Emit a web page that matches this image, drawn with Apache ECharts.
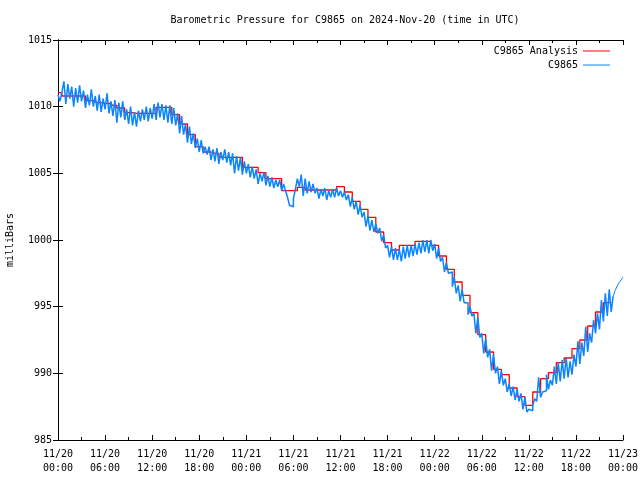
<!DOCTYPE html>
<html>
<head>
<meta charset="utf-8">
<script src="https://cdn.jsdelivr.net/npm/echarts@6/dist/echarts.min.js"></script>
<style>html,body{margin:0;padding:0;background:#fff}#c{width:640px;height:480px}</style>
</head>
<body>
<div id="c"></div>
<script>
// x axis in hours since 2024-11-20 00:00 UTC
const xTickLabels = ['11/20\n00:00','11/20\n06:00','11/20\n12:00','11/20\n18:00','11/21\n00:00','11/21\n06:00','11/21\n12:00','11/21\n18:00','11/22\n00:00','11/22\n06:00','11/22\n12:00','11/22\n18:00','11/23\n00:00'];
const yTicks = [985, 990, 995, 1000, 1005, 1010, 1015];

// hourly analysis values (hour 0 .. 70, plus end of last step)
const analysisHours = [0,1,2,3,4,5,6,7,8,9,10,11,12,13,14,15,16,17,18,19,20,21,22,23,24,25,26,27,28,29,30,31,32,33,34,35,36,37,38,39,40,41,42,43,44,45,46,47,48,49,50,51,52,53,54,55,56,57,58,59,60,61,62,63,64,65,66,67,68,69,70,70.5];
const analysisValues = [
1011.05,1010.8,1010.8,1010.8,1010.45,1010.3,1010.25,1010.1,1009.9,1009.55,
1009.5,1009.5,1009.5,1009.95,1009.95,1009.4,1008.7,1007.9,1007.0,1006.6,
1006.5,1006.2,1006.2,1006.2,1005.45,1005.45,1005.05,1004.6,1004.6,1003.7,
1003.7,1003.95,1003.75,1003.75,1003.75,1003.75,1004.0,1003.6,1002.9,1002.3,
1001.7,1000.6,999.8,999.25,999.6,999.6,999.9,999.9,999.6,998.8,
997.8,996.85,995.85,994.55,992.9,991.6,990.3,989.9,988.9,988.25,
987.6,988.6,989.6,990.05,990.8,991.15,991.85,992.5,993.55,994.6,
995.3,995.3];

// station observations, every 15 minutes from 11/20 00:00
const obsStepMinutes = 15;
const obsValues = [
1010.9,1010.4,1011.1,1011.9,  1010.2,1011.7,1010.6,1011.5,  1010.0,1011.4,1010.3,1011.6,
1010.4,1011.2,1009.9,1010.9,  1010.1,1011.3,1010.0,1010.8,  1009.7,1010.9,1009.6,1010.6,
1009.8,1011.0,1009.5,1010.4,  1009.3,1010.5,1008.8,1010.3,  1009.2,1010.4,1009.0,1009.8,
1008.7,1010.0,1008.6,1009.6,  1008.5,1009.7,1008.9,1009.8,  1009.0,1010.0,1008.9,1009.9,
1009.1,1010.2,1009.0,1010.3,  1009.2,1010.2,1009.0,1010.1,  1008.8,1010.1,1008.7,1009.9,
1008.6,1009.5,1008.0,1009.3,  1007.9,1008.7,1007.3,1008.5,  1007.2,1008.0,1006.9,1007.6,
1006.6,1007.5,1006.5,1007.0,  1006.4,1007.0,1006.0,1006.8,  1005.9,1006.9,1005.7,1006.6,
1006.0,1006.8,1005.8,1006.6,  1005.6,1006.5,1005.0,1006.3,  1005.2,1006.2,1004.9,1005.9,
1005.0,1005.7,1004.7,1005.5,  1004.6,1005.3,1004.2,1005.0,  1004.4,1005.1,1004.1,1004.8,
1004.0,1004.7,1003.9,1004.5,  1004.0,1004.5,1003.7,1004.2,  1003.7,1003.2,1002.6,1002.5,
1003.1,1003.8,1004.6,1004.0,  1004.9,1003.3,1004.6,1003.5,  1004.4,1003.6,1004.2,1003.5,
1003.9,1003.1,1003.8,1003.3,  1003.9,1003.0,1003.7,1003.2,  1003.8,1003.2,1003.9,1003.3,
1003.7,1003.2,1003.6,1003.0,  1003.4,1002.5,1003.2,1002.3,  1002.9,1001.9,1002.6,1001.7,
1002.1,1001.0,1001.8,1000.7,  1001.5,1000.6,1001.2,1000.5,  1000.9,999.9,1000.4,999.4,
999.6,998.7,999.5,998.5,      999.4,998.5,999.3,998.4,      999.5,998.6,999.6,998.7,
999.6,998.8,999.7,998.9,      999.8,999.0,1000.0,999.1,     1000.0,999.0,1000.0,999.2,
999.7,998.6,999.4,998.4,      998.7,997.6,998.3,997.5,      997.6,996.5,997.2,996.0,
996.6,995.4,996.3,995.3,      995.3,994.4,995.0,994.3,      994.5,993.0,994.2,992.7,
993.0,991.5,992.6,991.2,      991.8,990.2,991.4,990.0,      990.5,989.2,990.2,989.1,
989.6,988.6,989.2,988.3,      989.0,988.0,988.8,987.9,      988.5,987.3,988.2,987.1,
987.3,987.2,987.6,988.1,      987.9,989.7,988.2,988.6,      988.7,989.9,988.8,989.5,
989.1,990.5,989.2,990.8,      989.4,991.0,989.6,991.2,      989.7,990.9,989.9,991.4,
990.5,992.4,990.7,992.3,      991.3,993.5,991.6,993.0,      992.3,994.0,993.0,994.5,
993.3,995.5,993.9,996.0,      994.3,996.3,994.6,995.8
];
// thin trailing segment of the observation trace
const tailHours = [70.75, 71, 71.25, 71.5, 71.75, 72];
const tailValues = [995.8, 996.2, 996.55, 996.8, 997.0, 997.2];

const FONT = 'DejaVu Sans Mono';
const analysisData = analysisHours.map((h, i) => [h, analysisValues[i]]);
const obsData = obsValues.map((v, i) => [i * obsStepMinutes / 60, v]);
const tailData = [obsData[obsData.length - 1]].concat(tailHours.map((h, i) => [h, tailValues[i]]));

const chart = echarts.init(document.getElementById('c'), null, {renderer: 'canvas'});
const axisCommon = {
  type: 'value', min: 0, max: 72, interval: 6,
  axisLine: {show: true, onZero: false, lineStyle: {color: '#000', width: 1}},
  axisTick: {show: true, inside: true, length: 5, lineStyle: {color: '#000'}},
  minorTick: {show: true, splitNumber: 2, length: 3, lineStyle: {color: '#000'}},
  splitLine: {show: false}
};
chart.setOption({
  animation: false,
  backgroundColor: '#fff',
  title: {
    text: 'Barometric Pressure for C9865 on 2024-Nov-20 (time in UTC)',
    left: 340, top: 10, textAlign: 'center',
    textStyle: {fontFamily: FONT, fontSize: 10, fontWeight: 'normal', color: '#000'}
  },
  legend: {
    data: ['C9865 Analysis', 'C9865'],
    orient: 'vertical', right: 25, top: 41, align: 'right',
    icon: 'rect', itemWidth: 27, itemHeight: 1, itemGap: 4,
    textStyle: {fontFamily: FONT, fontSize: 10, color: '#000'}
  },
  grid: {left: 58, right: 17, top: 40, bottom: 40, containLabel: false, outerBoundsMode: 'none'},
  xAxis: [
    Object.assign({}, axisCommon, {
      position: 'bottom',
      axisLabel: {
        show: true, margin: 7, color: '#000', fontFamily: FONT, fontSize: 10, lineHeight: 14,
        formatter: v => xTickLabels[Math.round(v / 6)]
      }
    }),
    Object.assign({}, axisCommon, {position: 'top', axisLabel: {show: false}})
  ],
  yAxis: [
    {
      type: 'value', min: yTicks[0], max: yTicks[yTicks.length - 1], interval: 5, position: 'left',
      name: 'milliBars', nameLocation: 'middle', nameGap: 43, nameRotate: 90,
      nameTextStyle: {fontFamily: FONT, fontSize: 10, color: '#000'},
      axisLine: {show: true, lineStyle: {color: '#000'}},
      axisTick: {show: true, inside: true, length: 5, lineStyle: {color: '#000'}},
      axisLabel: {margin: 6, color: '#000', fontFamily: FONT, fontSize: 10, formatter: v => String(v)},
      splitLine: {show: false}
    },
    {
      type: 'value', min: yTicks[0], max: yTicks[yTicks.length - 1], interval: 5, position: 'right',
      axisLine: {show: true, lineStyle: {color: '#000'}},
      axisTick: {show: true, inside: true, length: 5, lineStyle: {color: '#000'}},
      axisLabel: {show: false},
      splitLine: {show: false}
    }
  ],
  series: [
    {
      name: 'C9865 Analysis', type: 'line', step: 'middle', data: analysisData,
      showSymbol: false, symbol: 'none', color: '#ff0000',
      lineStyle: {color: '#ff0000', width: 1.3}, z: 2
    },
    {
      name: 'C9865', type: 'line', step: 'end', data: obsData,
      showSymbol: false, symbol: 'none', color: '#0a84ff',
      lineStyle: {color: '#0a84ff', width: 1.5}, z: 3
    },
    {
      name: 'tail', type: 'line', data: tailData,
      showSymbol: false, symbol: 'none', color: '#0a84ff',
      lineStyle: {color: '#0a84ff', width: 1}, z: 3
    }
  ]
});
</script>
</body>
</html>
